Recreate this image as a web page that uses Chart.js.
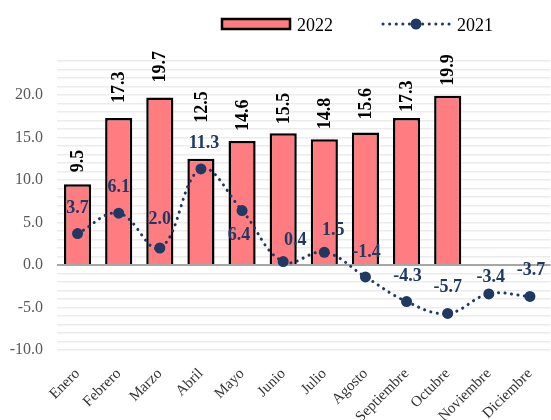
<!DOCTYPE html>
<html>
<head>
<meta charset="utf-8">
<script src="https://cdn.jsdelivr.net/npm/chart.js@4/dist/chart.umd.min.js"></script>
<style>
  body { margin: 0; background: #fff; overflow: hidden; }
  canvas { display: block; }
</style>
</head>
<body>
<canvas id="chart" width="556" height="420"></canvas>
<script>
const months = ['Enero', 'Febrero', 'Marzo', 'Abril', 'Mayo', 'Junio', 'Julio', 'Agosto', 'Septiembre', 'Octubre', 'Noviembre', 'Diciembre'];
const values2022 = [9.5, 17.3, 19.7, 12.5, 14.6, 15.5, 14.8, 15.6, 17.3, 19.9, null, null];
const values2021 = [3.7, 6.1, 2.0, 11.3, 6.4, 0.4, 1.5, -1.4, -4.3, -5.7, -3.4, -3.7];
const yTicks = [-10, -5, 0, 5, 10, 15, 20];

// label nudges (style only)
const barLabelGap = [12, 15, 15, 36, 10, 9, 10, 13, 6, 10, 0, 0];
const lineLabelDx = [0, 0, 0, 3, -3, 12, 9, 1, 1, 0, 2, 1];
const lineLabelDy = [-25, -26, -29, -26, 25, -21, -22, -25, -25, -26, -17, -26];

const serif = '"Liberation Serif", "Times New Roman", serif';
const barColor = '#FF7C80';
const navy = '#1F3864';

const labelPlugin = {
  id: 'labels',
  afterDatasetsDraw(chart) {
    const c = chart.ctx;
    c.save();
    c.font = 'bold 18px ' + serif;
    // bar labels, vertical
    chart.getDatasetMeta(0).data.forEach((bar, i) => {
      const v = values2022[i];
      if (v === null) return;
      c.save();
      c.translate(bar.x + 1, bar.y - barLabelGap[i]);
      c.rotate(-Math.PI / 2);
      c.fillStyle = '#000';
      c.textAlign = 'left';
      c.textBaseline = 'middle';
      c.fillText(v.toFixed(1), 0, 0);
      c.restore();
    });
    // line labels
    c.fillStyle = navy;
    c.textAlign = 'center';
    c.textBaseline = 'middle';
    chart.getDatasetMeta(1).data.forEach((pt, i) => {
      c.fillText(values2021[i].toFixed(1), pt.x + lineLabelDx[i], pt.y + lineLabelDy[i]);
    });
    c.restore();
  },
  afterDraw(chart) {
    const c = chart.ctx;
    c.save();
    // legend 2022
    c.fillStyle = barColor;
    c.strokeStyle = '#000';
    c.lineWidth = 2.5;
    c.fillRect(222, 19, 68, 10);
    c.strokeRect(222, 19, 68, 10);
    c.fillStyle = '#000';
    c.font = '18px ' + serif;
    c.textBaseline = 'alphabetic';
    c.textAlign = 'left';
    c.fillText('2022', 297, 31);
    // legend 2021
    c.strokeStyle = navy;
    c.lineWidth = 3;
    c.lineCap = 'round';
    c.setLineDash([0.1, 6.5]);
    c.beginPath();
    c.moveTo(383, 24);
    c.lineTo(450, 24);
    c.stroke();
    c.setLineDash([]);
    c.fillStyle = navy;
    c.beginPath();
    c.arc(416, 24, 5.5, 0, Math.PI * 2);
    c.fill();
    c.fillStyle = '#000';
    c.fillText('2021', 457, 31);
    c.restore();
  }
};

new Chart(document.getElementById('chart'), {
  data: {
    labels: months,
    datasets: [{
      type: 'bar',
      label: '2022',
      data: values2022,
      backgroundColor: barColor,
      borderColor: '#000',
      borderWidth: 2.5,
      categoryPercentage: 1,
      barPercentage: 0.66,
      order: 1
    }, {
      type: 'line',
      label: '2021',
      data: values2021,
      borderColor: navy,
      borderWidth: 3,
      borderDash: [0.1, 6.5],
      borderCapStyle: 'round',
      tension: 0.4,
      pointRadius: 5.5,
      pointBackgroundColor: navy,
      pointBorderWidth: 0,
      order: 0
    }]
  },
  options: {
    responsive: false,
    animation: false,
    layout: { padding: { top: 61, right: 0, left: 0, bottom: 0 } },
    plugins: { legend: { display: false }, tooltip: { enabled: false } },
    scales: {
      x: {
        grid: { display: false },
        border: { display: false },
        ticks: {
          color: '#333333',
          font: { family: serif, size: 15 },
          minRotation: 45,
          maxRotation: 45,
          autoSkip: false,
          padding: 7
        },
        afterFit(scale) {
          scale.height = 70;
          scale.paddingLeft = 0;
          scale.paddingRight = 0;
        }
      },
      y: {
        min: -10,
        max: 24,
        border: { display: false },
        grid: {
          drawTicks: false,
          color: ctx => ctx.tick && ctx.tick.value === 0 ? '#a6a6a6' : '#ececec',
          lineWidth: ctx => ctx.tick && ctx.tick.value === 0 ? 2 : 1.6
        },
        ticks: {
          stepSize: 1,
          autoSkip: false,
          maxTicksLimit: 60,
          padding: 14,
          color: '#595959',
          font: { family: serif, size: 16 },
          callback: v => yTicks.includes(v) ? v.toFixed(1) : ''
        },
        afterFit(scale) {
          scale.width = 57;
        }
      }
    }
  },
  plugins: [labelPlugin]
});
</script>
</body>
</html>
